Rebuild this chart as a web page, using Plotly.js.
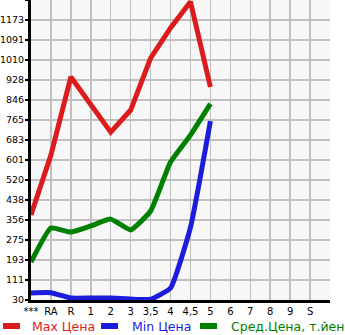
<!DOCTYPE html>
<html><head><meta charset="utf-8">
<script src="https://cdn.plot.ly/plotly-3.0.1.min.js"></script>
<style>html,body{margin:0;padding:0;background:#fff}#c{width:345px;height:335px}</style>
</head><body><div id="c"></div>
<script>
var categories = ["***","RA","R","1","2","3","3,5","4","4,5","5","6","7","8","9","S"];
var maxPrice = [377, 621, 940, 830, 715, 805, 1017, 1140, 1247, 899];
var minPrice = [59, 60, 38, 38, 38, 34, 33, 79, 326, 760];
var avgPrice = [185, 324, 307, 332, 360, 316, 393, 593, 703, 830];
var yTickLabels = ["30","111","193","275","356","438","520","601","683","765","846","928","1010","1091","1173",""];
var seriesNames = ["Max Цена","Min Цена","Сред.Цена, т.йен"];
var colors = ["#dc1c1c","#1c1cdc","#008000"];

var yBase = 30, yStep = 81.6;
var yTickVals = yTickLabels.map(function(_, i){ return yBase + i*yStep; });
var xIdx = function(arr){ return arr.map(function(_, i){ return i; }); };
var xTickVals = categories.map(function(_, i){ return i; }).concat([categories.length]);
var xTickText = categories.concat([""]);

function tr(vals, k, shape){
  return {x: xIdx(vals), y: vals, type:"scatter", mode:"lines", name: seriesNames[k],
    line:{color: colors[k], width:5, shape: shape, smoothing:0.4}, showlegend:false, hoverinfo:"none"};
}
var data = [tr(maxPrice,0,"linear"), tr(minPrice,1,"spline"), tr(avgPrice,2,"spline")];

var font = {family:"DejaVu Sans, sans-serif", size:9.5, color:"#000"};
var shapes = [], annotations = [];
var legendX = [0, 98, 197];
var legendTextX = [30, 130, 229];
for (var k=0;k<3;k++){
  shapes.push({type:"line", xref:"paper", yref:"paper", x0:(legendX[k]+3-31)/299, x1:(legendX[k]+20-31)/299,
    y0:(300-326)/300, y1:(300-326)/300, line:{color:colors[k], width:6}});
  annotations.push({xref:"paper", yref:"paper", x:(legendTextX[k]-31)/299, y:(300-326)/300,
    xanchor:"left", yanchor:"middle", showarrow:false, text:seriesNames[k],
    font:{family:"DejaVu Sans, sans-serif", size:12.5, color:colors[k]}});
}

var layout = {
  width:345, height:335,
  margin:{l:31, r:15, t:0, b:35, pad:0},
  paper_bgcolor:"#ffffff", plot_bgcolor:"#f7f7f7",
  font: font,
  xaxis:{range:[0,15], tickvals:xTickVals, ticktext:xTickText, showgrid:true, gridcolor:"#c0c0c0", gridwidth:1.5,
    zeroline:false, showline:true, linecolor:"#000", linewidth:3, ticks:"", tickfont:{family:font.family, size:10, color:"#000"}, fixedrange:true},
  yaxis:{range:[yBase, yBase+15*yStep], tickvals:yTickVals, ticktext:yTickLabels, showgrid:true, gridcolor:"#c0c0c0", gridwidth:1.5,
    zeroline:false, showline:true, linecolor:"#000", linewidth:3, ticks:"outside", ticklen:3, tickcolor:"#000", tickwidth:1.5,
    ticklabelstandoff:-1, tickfont:font, fixedrange:true},
  shapes: shapes, annotations: annotations, showlegend:false
};
Plotly.newPlot("c", data, layout, {displayModeBar:false, staticPlot:true});
</script></body></html>
